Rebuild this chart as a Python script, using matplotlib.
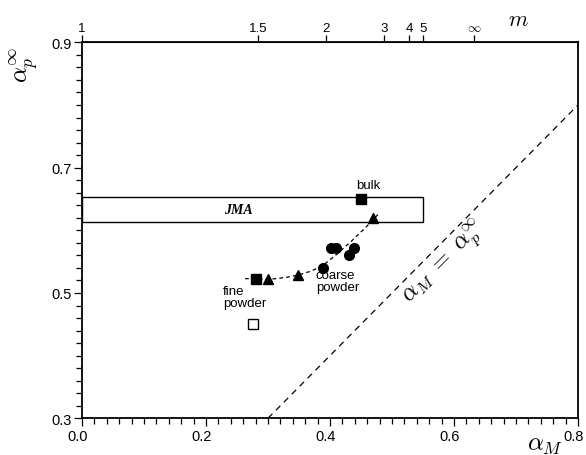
import numpy as np
import matplotlib
matplotlib.use('Agg')
import matplotlib.pyplot as plt
import matplotlib.transforms as mtransforms
from matplotlib.patches import Rectangle
from matplotlib.ticker import MultipleLocator

plt.rcParams['font.family'] = ['Liberation Sans', 'DejaVu Sans']
plt.rcParams['mathtext.fontset'] = 'cm'

# measured points (alpha_M, alpha_p^inf)
bulk_x, bulk_y = [0.4495], [0.650]
fine_sq_x, fine_sq_y = [0.281], [0.523]
open_sq_x, open_sq_y = [0.276], [0.450]
tri_x = [0.3005, 0.349, 0.469]
tri_y = [0.522, 0.529, 0.619]
circ_x = [0.389, 0.401, 0.410, 0.430, 0.439]
circ_y = [0.540, 0.571, 0.571, 0.560, 0.571]

# guide curve through the data
curve_x = [0.263, 0.285, 0.305, 0.330, 0.350, 0.370, 0.390, 0.410, 0.435, 0.460, 0.480]
curve_y = [0.523, 0.522, 0.522, 0.525, 0.529, 0.535, 0.545, 0.561, 0.583, 0.607, 0.628]

# JMA band
jma_m_max = 5
jma_lo, jma_hi = 0.613, 0.653

x_ticks = [0.0, 0.2, 0.4, 0.6, 0.8]
y_ticks = [0.3, 0.5, 0.7, 0.9]

# top axis: Avrami exponent m
m_ticks = [1, 1.5, 2, 3, 4, 5, np.inf]
m_labels = ['1', '1.5', '2', '3', '4', '5', r'$\infty$']


def m_to_alpha(m):
    return 1 - np.exp(-(1 - 1 / np.asarray(m, dtype=float)))


fig = plt.figure(figsize=(5.86, 4.56), dpi=100)
ax = fig.add_axes([0.1399, 0.0805, 0.8464, 0.8245])

ax.set_xlim(0, 0.8)
ax.set_ylim(0.3, 0.9)

# alpha_M = alpha_p line
ax.plot([0.3, 0.8], [0.3, 0.8], ls=(0, (5, 4)), color='k', lw=0.9)

box = Rectangle((0, jma_lo), float(m_to_alpha(jma_m_max)), jma_hi - jma_lo,
                fill=False, ec='k', lw=1.0)
ax.add_patch(box)
ax.text(0.252, (jma_lo + jma_hi) / 2, 'JMA', ha='center', va='center',
        fontsize=10, fontweight='bold', fontstyle='italic', family='Liberation Serif')

ax.plot(curve_x, curve_y, ls=(0, (3, 2.5)), color='k', lw=0.9)

ax.plot(bulk_x, bulk_y, 's', color='k', ms=6.5)
ax.plot(fine_sq_x, fine_sq_y, 's', color='k', ms=6.5)
ax.plot(open_sq_x, open_sq_y, 's', mfc='white', mec='k', mew=1.0, ms=7.5)
ax.plot(tri_x, tri_y, '^', color='k', ms=7.5)
ax.plot(circ_x, circ_y, 'o', color='k', ms=7)

ax.text(0.461, 0.672, 'bulk', ha='center', va='center', fontsize=9.5)
ax.text(0.377, 0.519, 'coarse\npowder', ha='left', va='center', fontsize=9.5,
        linespacing=1.0)
ax.text(0.227, 0.493, 'fine\npowder', ha='left', va='center', fontsize=9.5,
        linespacing=1.0)
ax.text(0.586, 0.548, r'$\alpha_M\ =\ \alpha_p^\infty$', ha='center', va='center',
        fontsize=17, rotation=45.3, rotation_mode='anchor')

ax.set_xticks(x_ticks)
ax.set_yticks(y_ticks)
ax.xaxis.set_minor_locator(MultipleLocator(0.02))
ax.yaxis.set_minor_locator(MultipleLocator(0.02))
ax.xaxis.set_major_formatter(lambda v, p: f'{v:.1f}')
ax.yaxis.set_major_formatter(lambda v, p: f'{v:.1f}')
ax.tick_params(which='both', direction='out', labelsize=10.5, width=0.9, pad=1.5)
ax.tick_params(which='major', length=6)
ax.tick_params(which='minor', length=4)
for s in ax.spines.values():
    s.set_linewidth(1.3)

# nudge bottom tick labels a little to the left so 0.8 stays inside
shift = mtransforms.ScaledTranslation(-3 / 72, 0, fig.dpi_scale_trans)
for lab in ax.get_xticklabels():
    lab.set_transform(lab.get_transform() + shift)

top = ax.secondary_xaxis('top')
top.set_xticks(m_to_alpha(m_ticks), m_labels)
top.tick_params(direction='out', length=5, width=0.9, labelsize=9.5, pad=1)

ax.text(-0.115, 0.942, r'$\alpha_p^\infty$', transform=ax.transAxes, rotation=90,
        ha='center', va='center', fontsize=18)
ax.text(0.933, -0.068, r'$\alpha_M$', transform=ax.transAxes,
        ha='center', va='center', fontsize=18)
ax.text(0.879, 1.062, r'$\mathbf{\mathit{m}}$', transform=ax.transAxes,
        ha='center', va='center', fontsize=16)

fig.savefig('out.png', dpi=100)
